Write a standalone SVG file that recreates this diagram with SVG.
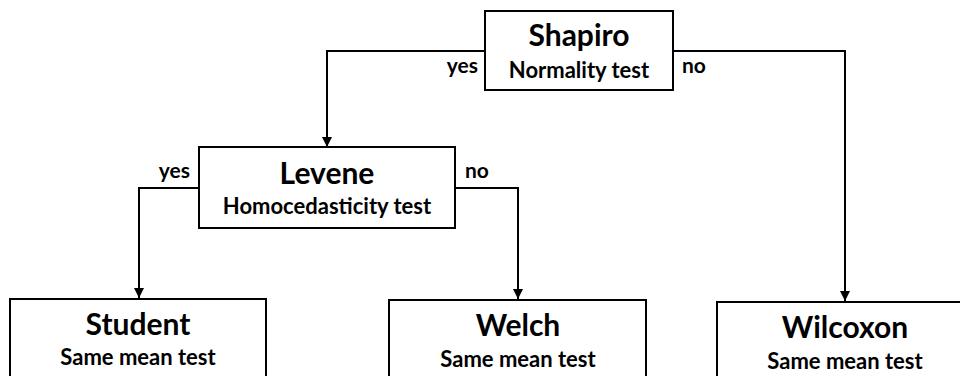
<svg xmlns="http://www.w3.org/2000/svg" width="960" height="376" viewBox="0 0 960 376">
<style>
.box{fill:#fff;stroke:#000;stroke-width:2}
.t{font-family:Lato,"Liberation Sans",sans-serif;font-weight:bold;fill:#000;text-anchor:middle}
.h{font-size:30px}
.s{font-size:22px}
.l{font-family:Lato,"Liberation Sans",sans-serif;font-weight:bold;font-size:21px;fill:#000}
.e{text-anchor:end}
.c{fill:none;stroke:#000;stroke-width:2}
</style>
<defs>
<marker id="a" viewBox="0 0 10 10" refX="10" refY="5" markerWidth="5" markerHeight="5" orient="auto" markerUnits="strokeWidth">
<path d="M0,0L10,5L0,10z" fill="#000"/>
</marker>
</defs>
<rect width="960" height="376" fill="#fff"/>
<g id="connectors">
<path class="c" d="M485,51H327V147" marker-end="url(#a)"/>
<path class="c" d="M673,51H845V301" marker-end="url(#a)"/>
<path class="c" d="M199,188H139V298" marker-end="url(#a)"/>
<path class="c" d="M455,188H518V299" marker-end="url(#a)"/>
<text class="l e" x="478" y="73">yes</text>
<text class="l" x="682" y="73">no</text>
<text class="l e" x="190" y="178">yes</text>
<text class="l" x="465" y="178">no</text>
</g>
<g id="shapiro">
<rect class="box" x="485" y="11" width="188" height="79"/>
<text class="t h" x="579" y="46">Shapiro</text>
<text class="t s" x="579" y="78">Normality test</text>
</g>
<g id="levene">
<rect class="box" x="199" y="147" width="256" height="81"/>
<text class="t h" x="327" y="184">Levene</text>
<text class="t s" x="327" y="214">Homocedasticity test</text>
</g>
<g id="student">
<rect class="box" x="10" y="299" width="256" height="90"/>
<text class="t h" x="138" y="335">Student</text>
<text class="t s" x="138" y="365">Same mean test</text>
</g>
<g id="welch">
<rect class="box" x="389" y="300" width="257" height="90"/>
<text class="t h" x="518" y="336">Welch</text>
<text class="t s" x="518" y="367">Same mean test</text>
</g>
<g id="wilcoxon">
<rect class="box" x="717" y="302" width="256" height="90"/>
<text class="t h" x="845" y="338">Wilcoxon</text>
<text class="t s" x="845" y="369">Same mean test</text>
</g>
</svg>
